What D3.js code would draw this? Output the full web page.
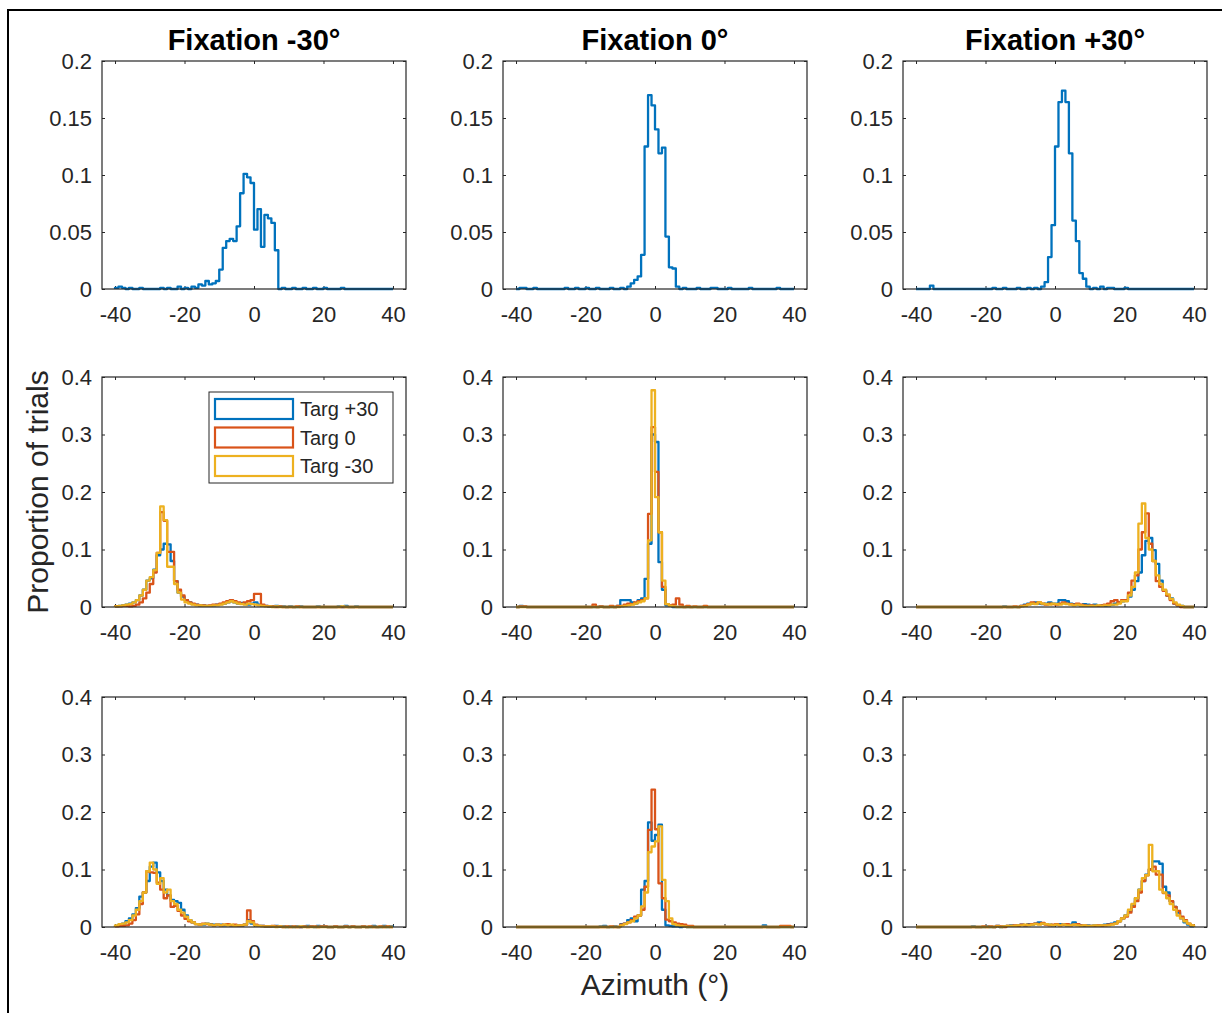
<!DOCTYPE html>
<html><head><meta charset="utf-8">
<script src="https://cdn.jsdelivr.net/npm/d3@7"></script>
<style>
body{margin:0;background:#fff;}
svg{display:block;font-family:"Liberation Sans",Arial,Helvetica,sans-serif;}
</style>
</head><body>
<svg id="chart" width="1222" height="1013"></svg>
<script>
// ---------------- DATA ----------------
const columnTitles = ["Fixation -30\u00B0", "Fixation 0\u00B0", "Fixation +30\u00B0"];
const seriesNames = ["Targ +30", "Targ 0", "Targ -30"];
const seriesColors = ["#0072BD", "#D95319", "#EDB120"];
const xTicks = [-40, -20, 0, 20, 40];
const yTicksTop = [0, 0.05, 0.1, 0.15, 0.2];
const yTicksLower = [0, 0.1, 0.2, 0.3, 0.4];
const binEdges = [-40,-39,-38,-37,-36,-35,-34,-33,-32,-31,-30,-29,-28,-27,-26,-25,-24,-23,-22,-21,
  -20,-19,-18,-17,-16,-15,-14,-13,-12,-11,-10,-9,-8,-7,-6,-5,-4,-3,-2,-1,
  0,1,2,3,4,5,6,7,8,9,10,11,12,13,14,15,16,17,18,19,
  20,21,22,23,24,25,26,27,28,29,30,31,32,33,34,35,36,37,38,39,40];

// Top row (single series)
const topFixM30 = [.001,.002,.001,0,.001,0,0,.001,0,0,
 0,0,0,.001,0,.001,0,0,.002,0,
 .001,0,.002,.001,.004,.003,.007,.004,.005,.007,
 .017,.036,.042,.044,.042,.055,.084,.101,.098,.093,
 .052,.070,.037,.065,.062,.058,.034,0,.001,0,
 0,.001,0,0,.001,0,0,.001,0,0,
 .001,0,0,0,0,.001,0,0,0,0,
 0,0,0,0,0,0,0,0,0,0];
const topFix0 = [0,.001,.001,0,0,.001,0,0,0,0,
 0,0,0,0,.001,0,0,.001,0,0,
 .001,0,0,.001,0,0,0,.001,0,0,
 .001,0,.002,.005,.008,.011,.030,.125,.170,.161,
 .140,.119,.124,.046,.019,.018,.002,0,.001,0,
 0,0,.001,0,0,0,.001,.001,0,0,
 0,.001,0,0,0,0,0,.001,0,0,
 0,0,0,0,0,.001,0,0,0,0];
const topFixP30 = [0,0,0,0,.003,0,0,0,0,0,
 0,0,0,0,0,0,0,0,0,0,
 0,0,.001,0,0,.001,0,0,0,.001,
 0,0,.001,0,.001,0,.002,.006,.028,.056,
 .125,.164,.174,.164,.119,.060,.042,.014,.009,.002,
 0,.001,0,.002,0,.001,.001,0,0,0,
 .001,0,0,0,0,0,0,0,0,0,
 0,0,0,0,0,0,0,0,0,0];

// Middle row, Fixation -30
const midM30TargP30 = [.001,.002,.003,.004,.006,.008,.012,.020,.030,.046,
 .050,.065,.090,.100,.110,.109,.080,.045,.025,.018,
 .012,.008,.005,.004,.003,.003,.002,.002,.003,.004,
 .005,.006,.008,.010,.008,.006,.007,.005,.004,.006,
 .008,.004,.002,.002,.001,.001,.002,.001,.001,0,
 .001,0,0,.001,0,0,0,0,.001,0,
 0,0,0,0,.001,0,.002,0,0,.001,
 0,0,0,0,0,0,0,0,0,0];
const midM30Targ0 = [.001,.001,.002,.002,.001,.002,.004,.008,.015,.025,
 .040,.060,.094,.165,.150,.096,.096,.045,.030,.020,
 .012,.008,.006,.004,.003,.003,.002,.003,.004,.004,
 .006,.008,.010,.012,.010,.008,.006,.008,.010,.012,
 .023,.023,.004,.002,.001,.001,0,.001,0,0,
 0,0,.001,0,0,0,0,0,0,0,
 0,0,0,0,0,0,0,0,0,0,
 0,0,0,0,0,0,0,0,0,0];
const midM30TargM30 = [.001,.002,.003,.004,.005,.008,.012,.020,.030,.046,
 .052,.064,.094,.175,.151,.070,.070,.040,.025,.013,
 .008,.006,.004,.003,.003,.002,.002,.002,.003,.003,
 .004,.006,.008,.010,.008,.006,.005,.004,.006,.005,
 .004,.003,.002,.001,.001,0,.001,0,0,0,
 0,0,0,0,0,0,0,0,0,0,
 0,0,0,0,0,.001,0,0,0,0,
 0,0,0,0,0,0,0,0,0,0];

// Middle row, Fixation 0
const mid0TargP30 = [0,.002,.001,0,0,0,0,0,0,0,
 0,0,0,0,0,0,0,0,0,0,
 0,0,0,0,.001,0,0,0,0,.002,
 .012,.012,.012,.008,.006,.012,.015,.049,.110,.300,
 .287,.078,.030,.003,.002,0,0,0,0,0,
 0,0,0,0,0,0,0,0,0,0,
 0,0,0,0,0,0,0,0,0,0,
 0,0,0,0,0,0,0,0,0,0];
const mid0Targ0 = [0,.001,.001,0,0,0,0,0,0,0,
 0,0,0,0,0,0,0,0,0,0,
 0,0,.004,0,.001,0,0,.002,0,.002,
 .002,.004,.006,.005,.008,.010,.012,.015,.162,.313,
 .235,.130,.035,.005,.003,.004,.015,.004,0,.002,
 0,.001,0,0,.002,0,0,0,0,0,
 0,0,0,0,0,0,0,0,0,0,
 0,0,0,0,0,0,0,0,0,0];
const mid0TargM30 = [0,0,0,0,0,0,0,0,0,0,
 0,0,0,0,0,0,0,0,0,0,
 0,0,0,0,0,0,0,0,0,0,
 .001,.002,.003,.004,.006,.008,.010,.015,.116,.377,
 .191,.130,.046,.005,.002,.001,0,0,0,0,
 0,0,0,0,0,0,0,0,0,0,
 0,0,0,0,0,0,0,0,0,0,
 0,0,0,0,0,0,0,0,0,0];

// Middle row, Fixation +30
const midP30TargP30 = [0,0,0,0,0,0,0,0,0,0,
 0,0,0,0,0,0,0,0,0,0,
 0,0,0,0,0,.001,0,0,0,0,
 .002,.004,.006,.006,.008,.006,.005,.006,.008,.006,
 .006,.012,.012,.010,.006,.005,.004,.003,.005,.004,
 .003,.004,.002,.003,.002,.003,.004,.006,.008,.010,
 .012,.018,.030,.045,.060,.090,.115,.120,.099,.075,
 .046,.029,.020,.015,.006,.003,.002,0,0,0];
const midP30Targ0 = [0,0,0,0,0,0,0,0,0,0,
 0,0,0,0,0,0,0,0,0,0,
 0,0,0,0,0,0,0,0,.001,0,
 .002,.003,.005,.008,.006,.008,.006,.004,.006,.005,
 .004,.006,.008,.006,.005,.004,.006,.004,.003,.002,
 .003,.002,.002,.003,.004,.006,.010,.012,.008,.012,
 .012,.025,.046,.055,.100,.130,.163,.110,.080,.045,
 .035,.028,.020,.012,.006,.003,0,0,0,0];
const midP30TargM30 = [0,0,0,0,0,0,0,0,0,0,
 0,0,0,0,0,0,0,0,0,0,
 0,0,0,0,0,0,0,0,0,0,
 .001,.002,.004,.006,.005,.008,.006,.005,.004,.006,
 .005,.004,.006,.005,.004,.003,.004,.003,.002,.002,
 .002,.002,.003,.002,.003,.003,.004,.004,.006,.010,
 .010,.020,.035,.060,.145,.180,.120,.100,.080,.055,
 .040,.030,.022,.014,.008,.004,.002,0,0,0];

// Bottom row, Fixation -30
const botM30TargP30 = [.002,.004,.006,.010,.015,.022,.033,.053,.060,.080,
 .105,.112,.095,.080,.065,.055,.047,.045,.042,.030,
 .020,.012,.008,.005,.004,.004,.006,.005,.004,.004,
 .004,.003,.004,.003,.002,.003,.002,.004,.012,.006,
 .003,.002,.002,.001,.001,.001,.002,.001,.001,0,
 .001,0,.001,0,.001,.002,.001,0,.002,.001,
 .001,0,0,.001,0,0,.002,0,.001,0,
 0,.001,0,0,.002,0,0,.002,0,.001];
const botM30Targ0 = [.001,.002,.002,.003,.006,.012,.022,.040,.060,.097,
 .095,.094,.077,.065,.050,.055,.035,.037,.028,.020,
 .014,.010,.008,.005,.004,.006,.005,.004,.003,.004,
 .003,.004,.005,.003,.004,.002,.003,.004,.029,.010,
 .004,.002,.002,.001,.001,.002,.001,.001,0,.001,
 0,.001,0,0,.001,0,.001,.001,0,.001,
 .001,0,0,.001,0,0,.001,0,.001,0,
 0,.001,0,.001,0,0,.001,0,.001,0];
const botM30TargM30 = [.003,.005,.006,.008,.012,.020,.030,.045,.060,.097,
 .112,.100,.075,.085,.060,.065,.045,.040,.030,.025,
 .018,.012,.008,.005,.004,.005,.006,.004,.003,.004,
 .003,.004,.003,.004,.002,.003,.003,.004,.010,.008,
 .003,.002,.001,.001,.001,.001,0,.001,0,0,
 0,0,0,.001,0,0,0,0,0,0,
 0,0,0,0,0,0,0,0,0,0,
 0,0,0,0,0,0,0,0,0,0];

// Bottom row, Fixation 0
const bot0TargP30 = [0,0,0,0,0,0,0,0,0,0,
 0,0,0,0,0,0,0,0,0,0,
 0,0,0,0,.001,.002,0,0,.001,0,
 .005,.006,.012,.015,.010,.020,.065,.080,.182,.150,
 .160,.178,.030,.003,.002,.001,.001,0,.001,0,
 0,0,0,0,0,0,0,0,0,0,
 0,0,0,0,0,0,0,0,0,0,
 0,.003,0,0,0,0,0,0,0,0];
const bot0Targ0 = [0,0,0,0,0,0,0,0,0,0,
 0,0,0,0,0,0,0,0,0,0,
 0,0,0,0,0,0,0,.001,0,0,
 .004,.006,.008,.012,.018,.020,.030,.070,.169,.239,
 .170,.076,.050,.013,.010,.008,.006,.005,.004,.002,
 .002,0,0,0,0,0,0,0,0,0,
 0,0,0,0,0,0,0,0,0,0,
 0,0,0,0,0,0,.002,.002,.002,0];
const bot0TargM30 = [0,0,0,0,0,0,0,0,0,0,
 0,0,0,0,0,0,0,0,0,0,
 0,0,0,0,0,0,0,0,0,0,
 .003,.005,.008,.010,.015,.020,.036,.060,.130,.140,
 .149,.175,.082,.045,.015,.005,.003,.002,.001,0,
 0,0,0,0,0,0,0,0,0,0,
 0,0,0,0,0,0,0,0,0,0,
 0,0,0,0,0,0,0,0,0,0];

// Bottom row, Fixation +30
const botP30TargP30 = [0,0,0,0,0,0,0,0,0,0,
 0,0,0,0,0,0,.001,0,0,0,
 .001,0,0,.002,0,.001,.002,.003,.002,.003,
 .004,.003,.005,.004,.006,.008,.006,.005,.004,.003,
 .004,.005,.004,.003,.004,.008,.005,.003,.002,.003,
 .002,.003,.002,.003,.004,.005,.006,.008,.010,.015,
 .020,.028,.038,.050,.065,.080,.091,.100,.114,.114,
 .110,.070,.060,.045,.035,.025,.015,.008,.004,.001];
const botP30Targ0 = [0,0,0,0,0,0,0,0,0,0,
 0,0,0,0,0,0,0,0,0,.001,
 0,.001,0,.002,.001,0,.002,.002,.003,.002,
 .004,.003,.004,.005,.006,.005,.007,.004,.003,.004,
 .005,.003,.004,.005,.003,.004,.005,.003,.003,.002,
 .002,.002,.003,.002,.003,.004,.005,.006,.010,.015,
 .018,.025,.035,.045,.060,.080,.090,.100,.105,.091,
 .091,.059,.055,.045,.035,.028,.018,.012,.006,.003];
const botP30TargM30 = [0,0,0,0,0,0,0,0,0,0,
 0,0,0,0,0,0,0,0,0,0,
 0,0,0,.001,0,.001,.002,.002,.002,.003,
 .003,.004,.003,.004,.005,.004,.006,.005,.004,.003,
 .004,.003,.004,.003,.003,.004,.003,.002,.003,.002,
 .002,.003,.002,.003,.003,.003,.004,.006,.010,.015,
 .020,.030,.040,.050,.065,.085,.090,.143,.097,.097,
 .065,.060,.050,.040,.030,.020,.015,.010,.006,.003];

// Panel table built from the arrays above
const panels = [
  {row:0, col:0, yTicks:yTicksTop, series:[topFixM30]},
  {row:0, col:1, yTicks:yTicksTop, series:[topFix0]},
  {row:0, col:2, yTicks:yTicksTop, series:[topFixP30]},
  {row:1, col:0, yTicks:yTicksLower, series:[midM30TargP30, midM30Targ0, midM30TargM30], legend:true},
  {row:1, col:1, yTicks:yTicksLower, series:[mid0TargP30, mid0Targ0, mid0TargM30]},
  {row:1, col:2, yTicks:yTicksLower, series:[midP30TargP30, midP30Targ0, midP30TargM30]},
  {row:2, col:0, yTicks:yTicksLower, series:[botM30TargP30, botM30Targ0, botM30TargM30]},
  {row:2, col:1, yTicks:yTicksLower, series:[bot0TargP30, bot0Targ0, bot0TargM30]},
  {row:2, col:2, yTicks:yTicksLower, series:[botP30TargP30, botP30Targ0, botP30TargM30]}
];

// ---------------- LAYOUT ----------------
const svg = d3.select("#chart");
const axisColor = "#262626";
const colLeft = [102, 503, 903];
const rowTop = [61, 377, 697];
const panelW = 304;
const rowH = [228, 230, 230];
const tickFont = 22;

svg.append("rect").attr("width",1222).attr("height",1013).attr("fill","#fff");
// figure border (left + top)
svg.append("path").attr("d","M8,1013V10H1222").attr("fill","none").attr("stroke","#000").attr("stroke-width",2);

panels.forEach(p => {
  const w = panelW, h = rowH[p.row];
  const g = svg.append("g").attr("transform", `translate(${colLeft[p.col]},${rowTop[p.row]})`);
  const x = d3.scaleLinear().domain([-43.75, 43.75]).range([0, w]);
  const y = d3.scaleLinear().domain([0, d3.max(p.yTicks)]).range([h, 0]);

  const styleAxis = sel => {
    sel.select(".domain").remove();
    sel.selectAll(".tick line").attr("stroke", axisColor).attr("stroke-width", 1);
    sel.selectAll(".tick text").attr("fill", axisColor).style("font-size", tickFont + "px")
      .style("font-family", '"Liberation Sans", Arial, sans-serif');
  };
  g.append("g").attr("transform", `translate(0,${h})`)
    .call(d3.axisBottom(x).tickValues(xTicks).tickSize(-3).tickPadding(17).tickFormat(d => String(d)))
    .call(styleAxis);
  g.append("g")
    .call(d3.axisTop(x).tickValues(xTicks).tickSize(-3).tickFormat(""))
    .call(styleAxis);
  g.append("g")
    .call(d3.axisLeft(y).tickValues(p.yTicks).tickSize(-3).tickPadding(10).tickFormat(d => String(d)))
    .call(styleAxis);
  g.append("g").attr("transform", `translate(${w},0)`)
    .call(d3.axisRight(y).tickValues(p.yTicks).tickSize(-3).tickFormat(""))
    .call(styleAxis);

  // histogram stairs
  const line = d3.line().x(d => x(d[0])).y(d => y(d[1])).curve(d3.curveStepAfter);
  p.series.forEach((vals, si) => {
    const pts = [[binEdges[0], 0]];
    vals.forEach((v, i) => pts.push([binEdges[i], v]));
    pts.push([binEdges[binEdges.length - 1], vals[vals.length - 1]]);
    pts.push([binEdges[binEdges.length - 1], 0]);
    g.append("path").attr("d", line(pts)).attr("fill", "none")
      .attr("stroke", seriesColors[si]).attr("stroke-width", 2.3)
      .attr("stroke-linejoin", "round");
  });

  // box
  g.append("rect").attr("width", w).attr("height", h).attr("fill", "none")
    .attr("stroke", axisColor).attr("stroke-width", 1.2);

  if (p.row === 0) {
    g.append("text").attr("x", w / 2).attr("y", -11).attr("text-anchor", "middle")
      .style("font-size", "29px").style("font-weight", "bold").attr("fill", "#000")
      .text(columnTitles[p.col]);
  }

  if (p.legend) {
    const lg = g.append("g").attr("transform", "translate(107,15)");
    lg.append("rect").attr("width", 184).attr("height", 91).attr("fill", "#fff")
      .attr("stroke", axisColor).attr("stroke-width", 1);
    seriesNames.forEach((name, i) => {
      const yy = 7 + i * 28.5;
      lg.append("rect").attr("x", 6).attr("y", yy).attr("width", 78).attr("height", 20)
        .attr("fill", "none").attr("stroke", seriesColors[i]).attr("stroke-width", 2.2);
      lg.append("text").attr("x", 91).attr("y", yy + 10).attr("dy", "0.35em")
        .style("font-size", "20px").attr("fill", axisColor).text(name);
    });
  }
});

// axis labels
svg.append("text").attr("transform", "translate(48,492) rotate(-90)").attr("text-anchor", "middle")
  .style("font-size", "30px").attr("fill", axisColor).text("Proportion of trials");
svg.append("text").attr("x", 655).attr("y", 995).attr("text-anchor", "middle")
  .style("font-size", "30px").attr("fill", axisColor).text("Azimuth (\u00B0)");
</script>
</body></html>
